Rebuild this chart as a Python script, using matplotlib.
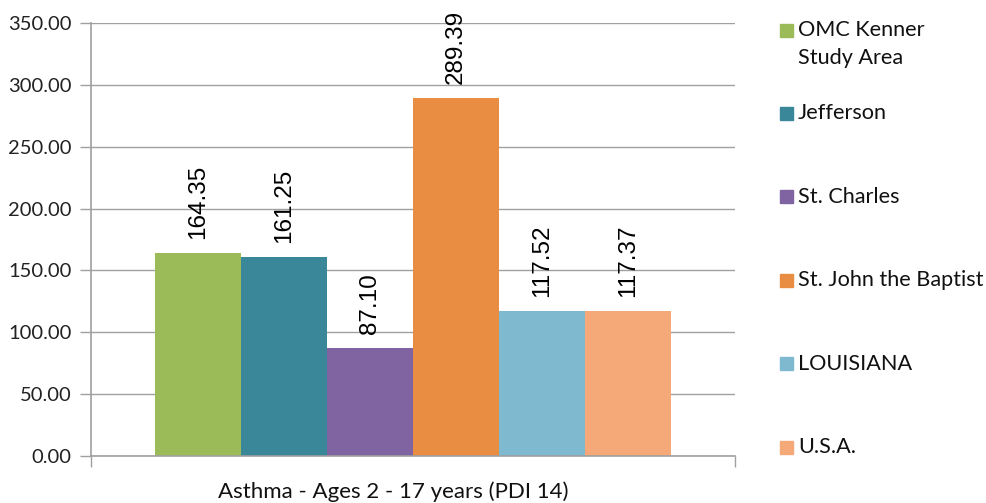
import matplotlib.pyplot as plt
from matplotlib.patches import Rectangle

# data
areas = ['OMC Kenner\nStudy Area', 'Jefferson', 'St. Charles',
         'St. John the Baptist', 'LOUISIANA', 'U.S.A.']
rates = [164.35, 161.25, 87.10, 289.39, 117.52, 117.37]
colors = ['#9BBB59', '#3A8799', '#8064A2', '#E88D42', '#7EB9D0', '#F6A978']
yticks = [0, 50, 100, 150, 200, 250, 300, 350]
xlabel = 'Asthma - Ages 2 - 17 years (PDI 14)'

W, H = 987, 503
fig = plt.figure(figsize=(W / 100, H / 100), dpi=100)
ax = fig.add_axes([91 / W, 1 - 456 / H, (735 - 91) / W, (456 - 23) / H])

grey = '#A0A0A0'
n = len(rates)
width = 0.8 / n
for i, (v, c) in enumerate(zip(rates, colors)):
    x = -0.4 + (i + 0.5) * width
    ax.bar(x, v, width=width, color=c, zorder=2)
    ax.annotate('%.2f' % v, (x, v), xytext=(0, 14), textcoords='offset pixels',
                rotation=90, ha='center', va='bottom', fontsize=17.5,
                family='Liberation Sans', color='black')

ax.set_xlim(-0.5, 0.5)
ax.set_ylim(0, 350)
ax.set_yticks(yticks)
ax.set_yticklabels(['%.2f' % t for t in yticks], family='Lato', fontsize=14.5,
                   color='#222222')
ax.set_xticks([-0.5, 0.5])
ax.set_xticklabels([])
ax.tick_params(axis='both', length=8, width=1, color=grey, direction='out')
ax.tick_params(axis='y', pad=6)
ax.yaxis.grid(True, color=grey, linewidth=1, zorder=0)
for s in ['top', 'right']:
    ax.spines[s].set_visible(False)
for s in ['left', 'bottom']:
    ax.spines[s].set_color(grey)
    ax.spines[s].set_linewidth(1.2)

fig.text(393 / W, 1 - 492 / H, xlabel, ha='center', va='center',
         family='Lato', fontsize=16, color='#111111')

# legend drawn by hand
for i, (name, c) in enumerate(zip(areas, colors)):
    yc = 30 + i * 83.4
    fig.add_artist(Rectangle((780 / W, 1 - (yc + 6.5) / H), 13 / W, 13 / H,
                             transform=fig.transFigure, color=c))
    for k, line in enumerate(name.split('\n')):
        fig.text(798 / W, 1 - (yc + k * 28) / H, line, ha='left', va='center',
                 family='Lato', fontsize=15.6, color='#111111')

fig.savefig('out.png', dpi=100)
